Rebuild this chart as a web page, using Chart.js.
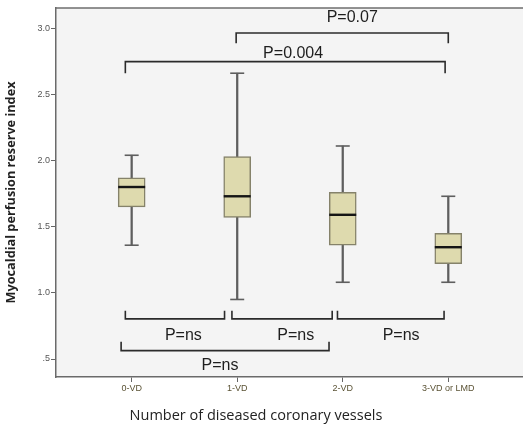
<!DOCTYPE html>
<html>
<head>
<meta charset="utf-8">
<script src="https://cdn.jsdelivr.net/npm/chart.js@4"></script>
<style>
  html, body { margin: 0; padding: 0; background: #fff; overflow: hidden; }
  #wrap { width: 523px; height: 429px; position: relative; }
  #chart { display: block; }
</style>
</head>
<body>
<div id="wrap"><canvas id="chart"></canvas></div>
<script>
// groups and box statistics
const categories = ['0-VD', '1-VD', '2-VD', '3-VD or LMD'];
const whiskerLow = [1.36, 0.95, 1.08, 1.08];
const quartile1 = [1.65, 1.57, 1.36, 1.22];
const medians = [1.80, 1.73, 1.59, 1.345];
const quartile3 = [1.87, 2.03, 1.76, 1.45];
const whiskerHigh = [2.04, 2.66, 2.11, 1.73];

const yTicks = [0.5, 1.0, 1.5, 2.0, 2.5, 3.0];
const yTickLabels = ['.5', '1.0', '1.5', '2.0', '2.5', '3.0'];

// comparison brackets (group index from / to, bar level, end level)
const bracketFrom = [-0.06, 0.99, -0.06, 0.95, 1.95, -0.10];
const bracketTo = [2.97, 3.0, 0.88, 1.90, 2.96, 1.87];
const bracketLevel = [2.748, 2.964, 0.803, 0.803, 0.803, 0.563];
const bracketEnd = [2.66, 2.887, 0.865, 0.865, 0.865, 0.631];
const pLabels = ['P=0.004', 'P=0.07', 'P=ns', 'P=ns', 'P=ns', 'P=ns'];
const pLabelX = [1.53, 2.09, 0.49, 1.555, 2.553, 0.837];
const pLabelY = [2.808, 3.083, 0.677, 0.677, 0.677, 0.448];

const idx = categories.map((c, i) => i);

const bracketSets = bracketFrom.map((x0, i) => ({
    type: 'scatter',
    data: [
        { x: x0, y: bracketEnd[i] },
        { x: x0, y: bracketLevel[i] },
        { x: bracketTo[i], y: bracketLevel[i] },
        { x: bracketTo[i], y: bracketEnd[i] },
    ],
    showLine: true,
    borderColor: '#2b2b2b',
    borderWidth: 1.6,
    pointRadius: 0,
    order: 1,
}));

const plotBackground = {
    id: 'plotBackground',
    beforeDraw(chart) {
        const { ctx, chartArea } = chart;
        ctx.save();
        ctx.fillStyle = '#f4f4f4';
        ctx.fillRect(chartArea.left, chartArea.top, chartArea.right - chartArea.left, chartArea.bottom - chartArea.top);
        ctx.strokeStyle = '#6e6e6e';
        ctx.lineWidth = 1.6;
        ctx.beginPath();
        ctx.moveTo(chartArea.left, chartArea.top);
        ctx.lineTo(chartArea.right, chartArea.top);
        ctx.stroke();
        ctx.restore();
    },
    afterDraw(chart) {
        const { ctx } = chart;
        const xs = chart.scales.x, ys = chart.scales.y;
        ctx.save();
        ctx.fillStyle = '#1e1e1e';
        ctx.font = '16px "Liberation Sans", Arial, sans-serif';
        ctx.textAlign = 'center';
        ctx.textBaseline = 'middle';
        pLabels.forEach((t, i) => {
            ctx.fillText(t, xs.getPixelForValue(pLabelX[i]), ys.getPixelForValue(pLabelY[i]));
        });
        ctx.font = '14.5px "Open Sans", sans-serif';
        ctx.fillStyle = '#222';
        ctx.fillText('Number of diseased coronary vessels', 256, 416);
        ctx.restore();
    },
};

new Chart(document.getElementById('chart'), {
    type: 'bar',
    data: {
        datasets: [
            {
                type: 'scatter',
                data: idx.map(i => ({ x: i, y: medians[i] })),
                pointStyle: 'line',
                radius: 13.5,
                borderWidth: 2.4,
                borderColor: '#151515',
                order: 1,
            },
            {
                type: 'scatter',
                data: idx.map(i => ({ x: i, y: whiskerLow[i] })).concat(idx.map(i => ({ x: i, y: whiskerHigh[i] }))),
                pointStyle: 'line',
                radius: 7,
                borderWidth: 1.6,
                borderColor: '#5e5e5e',
                order: 2,
            },
            {
                data: idx.map(i => ({ x: i, y: [quartile1[i], quartile3[i]] })),
                backgroundColor: '#dedaae',
                borderColor: '#85826a',
                borderWidth: 1.5,
                borderSkipped: false,
                barThickness: 27,
                grouped: false,
                order: 3,
            },
            {
                data: idx.map(i => ({ x: i, y: [whiskerLow[i], whiskerHigh[i]] })),
                backgroundColor: '#5e5e5e',
                borderWidth: 0,
                barThickness: 1.6,
                grouped: false,
                order: 4,
            },
            ...bracketSets,
        ],
    },
    options: {
        responsive: true,
        maintainAspectRatio: false,
        animation: false,
        events: [],
        layout: { autoPadding: false, padding: { top: 8, right: 0, bottom: 0, left: 0 } },
        plugins: { legend: { display: false }, tooltip: { enabled: false } },
        scales: {
            x: {
                type: 'linear',
                min: -0.717,
                max: 3.708,
                offset: false,
                afterBuildTicks: (scale) => { scale.ticks = idx.map(v => ({ value: v })); },
                afterFit: (scale) => {
                    scale.height = 52;
                    scale.paddingLeft = 0;
                    scale.paddingRight = 0;
                },
                ticks: {
                    autoSkip: false,
                    maxRotation: 0,
                    padding: 1,
                    color: '#5a5234',
                    font: { family: '"Liberation Sans", Arial, sans-serif', size: 9 },
                    callback: (v) => categories[v],
                },
                grid: { display: true, drawOnChartArea: false, drawTicks: true, tickLength: 5, color: '#666', offset: false },
                border: { display: true, color: '#6a6a6a', width: 1.5 },
            },
            y: {
                type: 'linear',
                min: 0.364,
                max: 3.153,
                afterBuildTicks: (scale) => { scale.ticks = yTicks.map(v => ({ value: v })); },
                afterFit: (scale) => {
                    scale.width = 56;
                    scale.paddingTop = 0;
                    scale.paddingBottom = 0;
                },
                ticks: {
                    padding: 1,
                    color: '#555',
                    font: { family: '"Liberation Sans", Arial, sans-serif', size: 9 },
                    callback: (v) => yTickLabels[yTicks.indexOf(v)],
                },
                grid: { display: true, drawOnChartArea: false, drawTicks: true, tickLength: 5, color: '#666' },
                border: { display: true, color: '#6a6a6a', width: 1.5 },
                title: {
                    display: true,
                    text: 'Myocaldial perfusion reserve index',
                    color: '#222',
                    font: { family: '"Open Sans", sans-serif', size: 12.7, weight: 'bold' },
                    padding: { top: 4, bottom: 0 },
                },
            },
        },
    },
    plugins: [plotBackground],
});
</script>
</body>
</html>
